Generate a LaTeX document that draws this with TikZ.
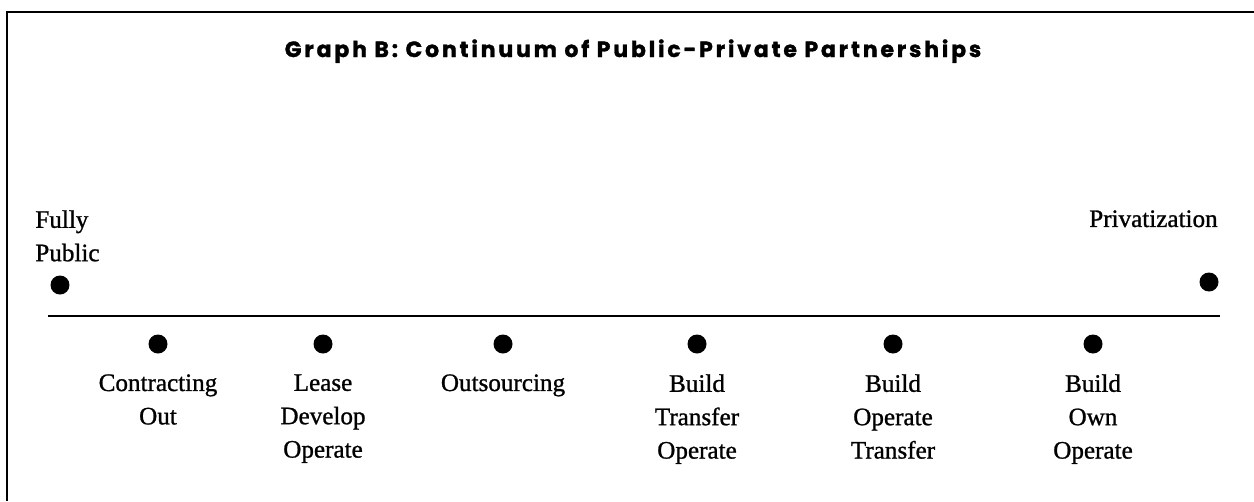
\documentclass[tikz,border=0pt]{standalone}
\usepackage{fontspec}
\setmainfont{Liberation Serif}[FakeBold=1]
\newfontfamily\headfont{Poppins}[LetterSpace=13, BoldFeatures={FakeBold=1.5}]
\usetikzlibrary{positioning}

\tikzset{
  bullet/.style={circle, fill=black, inner sep=0pt, minimum size=0.38cm},
  stage/.style={anchor=north, align=center, inner sep=0pt, font=\fontsize{14.3}{19}\selectfont},
  endlabel/.style={inner sep=0pt, font=\fontsize{14.3}{19}\selectfont},
}

\begin{document}
\begin{tikzpicture}[x=0.02cm, y=-0.02cm]
\useasboundingbox (0,0) rectangle (1254,501);

% frame (only top and left edge)
\draw[line width=1.2pt] (1254,12) -- (7,12) -- (7,501);

\node[anchor=base, font=\headfont\bfseries\fontsize{12.5}{14}\selectfont] (title) at (633,57)
  {Graph B: Continuum of Public-Private Partnerships};

% end points
\node[bullet] (pub) at (60,285) {};
\node[bullet] (priv) at (1209,282) {};
\node[endlabel, anchor=north west, align=left] (publbl) at (35,210) {Fully\\Public};
\node[endlabel, anchor=north east, align=right] (privlbl) at (1218,210) {Privatization};

% the line
\coordinate (lstart) at (48,316);
\coordinate (lend) at (1220,316);
\draw[line width=1.1pt] (lstart) -- (lend);

% forms of partnership
\foreach \x/\nm/\txt in {158/co/Contracting\\Out, 323/ldo/Lease\\Develop\\Operate,
    503/out/Outsourcing, 697/bto/Build\\Transfer\\Operate,
    893/bot/Build\\Operate\\Transfer, 1093/boo/Build\\Own\\Operate}{
  \node[bullet] (\nm) at (\x,344) {};
  \node[stage] (\nm-lbl) at (\x,374) {\txt};
}
\end{tikzpicture}
\end{document}
